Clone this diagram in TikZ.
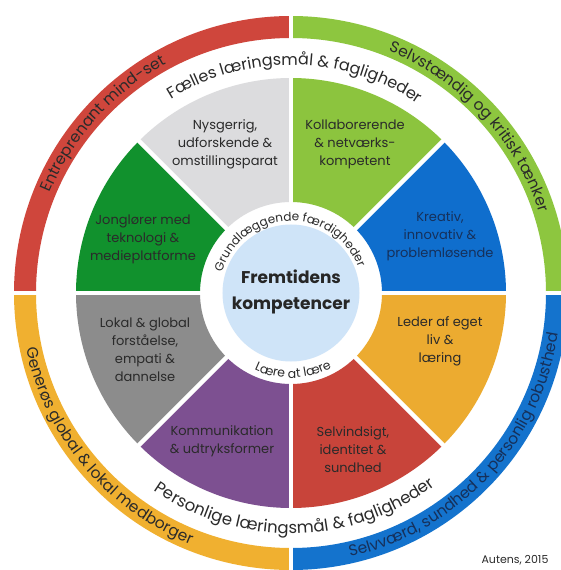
\documentclass[tikz,border=0pt]{standalone}
\usepackage{fontspec}
\setmainfont{Poppins}
\usetikzlibrary{decorations.text}
\definecolor{ringred}{HTML}{CF463C}
\definecolor{ringgreen}{HTML}{8DC63F}
\definecolor{ringorange}{HTML}{F0B030}
\definecolor{ringblue}{HTML}{1473CD}
\definecolor{secgray}{HTML}{DCDCDE}
\definecolor{seclgreen}{HTML}{8CC43E}
\definecolor{secblue}{HTML}{0F6ECD}
\definecolor{secdgreen}{HTML}{11912D}
\definecolor{secdgray}{HTML}{8C8C8C}
\definecolor{secpurple}{HTML}{7D5091}
\definecolor{secred}{HTML}{C8443A}
\definecolor{secorange}{HTML}{ECAB30}
\definecolor{centerblue}{HTML}{CFE4F8}
\definecolor{txtdark}{HTML}{2A2A2A}
\definecolor{txtnavy}{HTML}{16305A}
\newcommand\annsec[5]{\fill[#1] (#2:#4) arc[start angle=#2,end angle=#3,radius=#4] -- (#3:#5) arc[start angle=#3,end angle=#2,radius=#5] -- cycle;}
\newcommand\ringfont{\fontsize{15.5}{15.5}\selectfont}
\newcommand\midfont{\fontsize{16}{16}\selectfont}
\newcommand\botfont{\fontsize{16.5}{16.5}\selectfont}
\newcommand\innerfont{\fontsize{12}{12}\selectfont}
\newcommand\lowfont{\fontsize{12.5}{12.5}\selectfont}
\tikzset{
  seclabel/.style={align=center,text=txtdark,font=\fontsize{13}{18}\selectfont,inner sep=0pt},
  gapline/.style={white,line width=4.5pt},
  ringtext/.style={decorate,decoration={text along path,text align=center}}
}
\begin{document}
\begin{tikzpicture}[x=1pt,y=1pt]
\useasboundingbox (-291,-277) rectangle (270,293);
\fill[white] (-291,-277) rectangle (270,293);
% outer ring quadrants
\annsec{ringred}{90}{180}{255}{277}
\annsec{ringgreen}{0}{90}{255}{277}
\annsec{ringorange}{180}{270}{255}{277}
\annsec{ringblue}{270}{360}{255}{277}
% inner sectors
\annsec{secblue}{0}{45}{91}{215}
\annsec{seclgreen}{45}{90}{91}{215}
\annsec{secgray}{90}{135}{91}{215}
\annsec{secdgreen}{135}{180}{91}{215}
\annsec{secdgray}{180}{225}{91}{215}
\annsec{secpurple}{225}{270}{91}{215}
\annsec{secred}{270}{315}{91}{215}
\annsec{secorange}{315}{360}{91}{215}
% gaps
\foreach \a in {0,90,180,270} \draw[gapline] (\a:85) -- (\a:300);
\foreach \a in {45,135,225,315} \draw[gapline] (\a:85) -- (\a:240);
% center
\fill[centerblue] (0,0) circle (68.5);
\node[font=\bfseries\fontsize{17}{26}\selectfont,align=center,text=black!85] (center) at (0,1.5) {Fremtidens\\kompetencer};
% sector labels
\node[seclabel] (nys) at (-66,149) {Nysgerrig,\\udforskende \&\\omstillingsparat};
\node[seclabel] (kol) at (64,149) {Kollaborerende\\\& netværks-\\kompetent};
\node[seclabel,text=txtnavy] (kre) at (149,57) {Kreativ,\\innovativ \&\\problemløsende};
\node[seclabel] (jon) at (-148,54) {Jonglører med\\teknologi \&\\medieplatforme};
\node[seclabel] (lok) at (-146,-56.5) {Lokal \& global\\forståelse,\\empati \&\\dannelse};
\node[seclabel] (kom) at (-69,-148) {Kommunikation\\\& udtryksformer};
\node[seclabel] (sel) at (62,-157) {Selvindsigt,\\identitet \&\\sundhed};
\node[seclabel] (led) at (149,-48) {Leder af eget\\liv \&\\læring};
% outer ring texts
\path[ringtext,decoration={text={|\ringfont\color{txtdark}|Entreprenant mind-set}}]
  (178:261) arc[start angle=178,end angle=98,radius=261];
\path[ringtext,decoration={text={|\ringfont\color{txtdark}|Selvstændig og kritisk tænker}}]
  (87:261) arc[start angle=87,end angle=-1,radius=261];
\path[ringtext,decoration={text={|\ringfont\color{txtdark}|Generøs global {\&} lokal medborger}}]
  (180:270.5) arc[start angle=180,end angle=260,radius=270.5];
\path[ringtext,decoration={text={|\ringfont\color{txtnavy}|Selvværd, sundhed {\&} personlig robusthed}}]
  (270:270.5) arc[start angle=270,end angle=364,radius=270.5];
% middle ring texts
\path[ringtext,decoration={text={|\midfont\color{txtdark}|Fælles læringsmål {\&} fagligheder}}]
  (150:228) arc[start angle=150,end angle=28,radius=228];
\path[ringtext,decoration={text={|\botfont\color{txtdark}|Personlige læringsmål {\&} fagligheder}}]
  (205:240.5) arc[start angle=205,end angle=337,radius=240.5];
% inner ring texts
\path[ringtext,decoration={text={|\innerfont\color{txtdark}|Grundlæggende færdigheder}}]
  (178:72) arc[start angle=178,end angle=6,radius=72];
\path[ringtext,decoration={text={|\lowfont\color{txtdark}|Lære at lære}}]
  (220:85) arc[start angle=220,end angle=323,radius=85];
% credit
\node[font=\fontsize{11}{11}\selectfont,text=txtdark] (credit) at (224,-267) {Autens, 2015};
\end{tikzpicture}
\end{document}
